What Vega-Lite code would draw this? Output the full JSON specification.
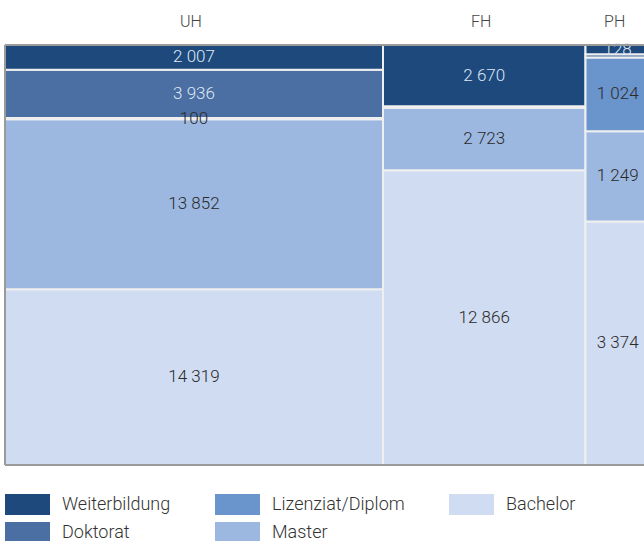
{
  "$schema": "https://vega.github.io/schema/vega-lite/v6.json",
  "width": 639,
  "height": 420,
  "autosize": {"type": "none"},
  "padding": {"left": 5, "top": 45, "right": 0, "bottom": 76},
  "background": "white",
  "config": {
    "view": {"stroke": null},
    "font": "Roboto",
    "locale": {"number": {"decimal": ",", "thousands": " ", "grouping": [3], "currency": ["", " CHF"]}}
  },
  "data": {
    "values": [
      {"col": "UH", "ci": 0, "cat": "Bachelor", "k": 0, "v": 14319, "lab": true},
      {"col": "UH", "ci": 0, "cat": "Master", "k": 1, "v": 13852, "lab": true},
      {"col": "UH", "ci": 0, "cat": "Lizenziat/Diplom", "k": 2, "v": 100, "lab": true},
      {"col": "UH", "ci": 0, "cat": "Doktorat", "k": 3, "v": 3936, "lab": true},
      {"col": "UH", "ci": 0, "cat": "Weiterbildung", "k": 4, "v": 2007, "lab": true},
      {"col": "FH", "ci": 1, "cat": "Bachelor", "k": 0, "v": 12866, "lab": true},
      {"col": "FH", "ci": 1, "cat": "Master", "k": 1, "v": 2723, "lab": true},
      {"col": "FH", "ci": 1, "cat": "Lizenziat/Diplom", "k": 2, "v": 40, "lab": false},
      {"col": "FH", "ci": 1, "cat": "Doktorat", "k": 3, "v": 30, "lab": false},
      {"col": "FH", "ci": 1, "cat": "Weiterbildung", "k": 4, "v": 2670, "lab": true},
      {"col": "PH", "ci": 2, "cat": "Bachelor", "k": 0, "v": 3374, "lab": true},
      {"col": "PH", "ci": 2, "cat": "Master", "k": 1, "v": 1249, "lab": true},
      {"col": "PH", "ci": 2, "cat": "Lizenziat/Diplom", "k": 2, "v": 1024, "lab": true},
      {"col": "PH", "ci": 2, "cat": "Doktorat", "k": 3, "v": 44, "lab": false},
      {"col": "PH", "ci": 2, "cat": "Weiterbildung", "k": 4, "v": 128, "lab": true}
    ]
  },
  "transform": [
    {"stack": "v", "groupby": [], "sort": [{"field": "ci", "order": "ascending"}, {"field": "k", "order": "ascending"}], "as": ["sx0", "sx1"]},
    {"joinaggregate": [{"op": "min", "field": "sx0", "as": "cx0"}, {"op": "max", "field": "sx1", "as": "cx1"}], "groupby": ["col"]},
    {"stack": "v", "groupby": ["col"], "sort": [{"field": "k", "order": "ascending"}], "offset": "normalize", "as": ["y0", "y1"]}
  ],
  "layer": [
    {
      "mark": {"type": "rect", "stroke": "#efefef", "strokeWidth": 2, "clip": true, "opacity": 1},
      "encoding": {
        "x": {"field": "cx0", "type": "quantitative", "scale": {"domain": [0, 57838], "nice": false, "zero": true}, "axis": null},
        "x2": {"field": "cx1"},
        "y": {"field": "y0", "type": "quantitative", "scale": {"domain": [0, 1], "nice": false}, "axis": null},
        "y2": {"field": "y1"},
        "color": {
          "field": "cat",
          "type": "nominal",
          "scale": {
            "domain": ["Weiterbildung", "Lizenziat/Diplom", "Bachelor", "Doktorat", "Master"],
            "range": ["#1d497d", "#6a94cc", "#d0dcf1", "#4b6ea3", "#9db8e0"]
          },
          "legend": {
            "title": null,
            "orient": "bottom",
            "direction": "horizontal",
            "columns": 3,
            "offset": 29,
            "symbolType": "M-1,-1H3.2857V1H-1Z",
            "symbolSize": 441,
            "symbolStrokeWidth": 0,
            "symbolOpacity": 1,
            "labelFont": "Roboto",
            "labelFontSize": 18,
            "labelFontWeight": 300,
            "labelColor": "#333333",
            "labelOffset": 36,
            "labelLimit": 300,
            "columnPadding": 44,
            "rowPadding": 7
          }
        }
      }
    },
    {
      "transform": [
        {"filter": "datum.lab"},
        {"fold": ["y0", "y1"], "as": ["yk", "yv"]},
        {"fold": ["cx0", "cx1"], "as": ["xk", "xv"]},
        {"aggregate": [{"op": "mean", "field": "yv", "as": "ym"}, {"op": "mean", "field": "xv", "as": "xm"}], "groupby": ["col", "cat", "k", "v"]}
      ],
      "mark": {"type": "text", "font": "Roboto", "fontSize": 17, "fontWeight": 300, "baseline": "middle", "align": "center"},
      "encoding": {
        "x": {"field": "xm", "type": "quantitative"},
        "y": {"field": "ym", "type": "quantitative"},
        "text": {"field": "v", "type": "quantitative", "format": ","},
        "color": {"condition": {"test": "datum.k >= 3", "value": "#dfe7f2"}, "value": "#2a2a2a"}
      }
    },
    {
      "transform": [
        {"fold": ["cx0", "cx1"], "as": ["xk", "xv"]},
        {"aggregate": [{"op": "mean", "field": "xv", "as": "xm"}], "groupby": ["col"]}
      ],
      "mark": {"type": "text", "font": "Roboto", "fontSize": 16, "fontWeight": 300, "baseline": "alphabetic", "align": "center", "dy": -18, "dx": -3, "color": "#444444"},
      "encoding": {
        "x": {"field": "xm", "type": "quantitative"},
        "y": {"datum": 1, "type": "quantitative"},
        "text": {"field": "col", "type": "nominal"}
      }
    },
    {
      "transform": [{"aggregate": [{"op": "count", "as": "n"}]}],
      "mark": {"type": "rule", "stroke": "#9a9a9a", "strokeWidth": 2},
      "encoding": {"y": {"datum": 1, "type": "quantitative"}}
    },
    {
      "transform": [{"aggregate": [{"op": "count", "as": "n"}]}],
      "mark": {"type": "rule", "stroke": "#9a9a9a", "strokeWidth": 2},
      "encoding": {"y": {"datum": 0, "type": "quantitative"}}
    },
    {
      "transform": [{"aggregate": [{"op": "count", "as": "n"}]}],
      "mark": {"type": "rule", "stroke": "#9a9a9a", "strokeWidth": 2},
      "encoding": {"x": {"datum": 0, "type": "quantitative"}}
    }
  ]
}
